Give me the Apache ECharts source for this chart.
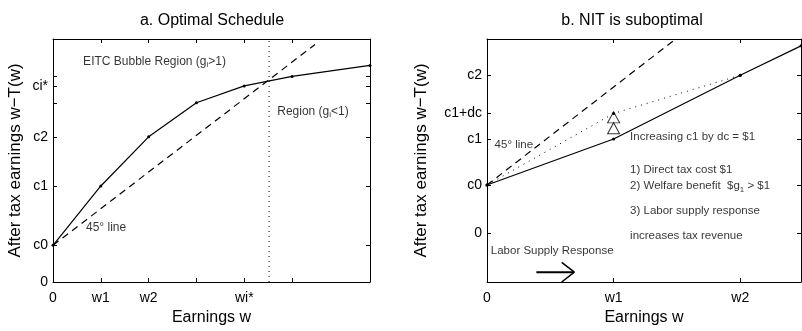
<!DOCTYPE html>
<html>
<head>
<meta charset="utf-8">
<script src="https://cdn.jsdelivr.net/npm/echarts@6/dist/echarts.min.js"></script>
<style>
  html, body { margin: 0; background: #fff; }
  #chart { width: 802px; height: 331px; }
</style>
</head>
<body>
<div id="chart"></div>
<script>
// ---- panel a: optimal schedule ----
const aTickW = [0, 1, 2, 3, 4, 5];
const aTickWLabels = ['0', 'w1', 'w2', '', 'wi*', ''];
const aTickC = [0, 1, 2.62, 3.96, 4.89, 5.35, 5.61];
const aTickCLabels = ['0', 'c0', 'c1', 'c2', '', 'ci*', ''];
const aScheduleW = [0, 1, 2, 3, 4, 5, 6.63];
const aScheduleC = [1, 2.62, 3.96, 4.89, 5.35, 5.61, 5.91];
const aLine45 = [[0, 1], [5.48, 6.48]];
const aWiStar = 4.52;
const aMax = 6.63;
const aNotes = [
  [0.63, 6.02, 'EITC Bubble Region (g{s|i}>1)'],
  [4.69, 4.65, 'Region (g{s|i}<1)'],
  [0.69, 1.47, '45° line']
];

// ---- panel b: NIT is suboptimal ----
const bTickW = [0, 1, 2];
const bTickWLabels = ['0', 'w1', 'w2'];
const bTickC = [0, 0.49, 0.96, 1.22, 1.61];
const bTickCLabels = ['0', 'c0', 'c1', 'c1+dc', 'c2'];
const bNitW = [0, 1, 2, 2.48];
const bNitC = [0.49, 0.96, 1.61, 1.91];
const bRaised = [[0, 0.49], [1, 1.22], [2, 1.61]];
const bLine45 = [[0, 0.49], [1.49, 1.98]];
const bTriangles = [[1, 1.18], [1, 1.07]];
const bArrowShaft = [[0.39, -0.40], [0.68, -0.40]];
const bArrowHead = [[0.59, -0.30], [0.69, -0.40], [0.59, -0.50]];
const bMinC = -0.5, bMaxC = 1.98, bMaxW = 2.48;
const bNotes = [
  [0.06, 0.90, '45° line'],
  [1.13, 0.98, 'Increasing c1 by dc = $1'],
  [1.13, 0.64, '1) Direct tax cost $1'],
  [1.13, 0.48, '2) Welfare benefit  $g{s|1} > $1'],
  [1.13, 0.23, '3) Labor supply response'],
  [1.13, -0.03, 'increases tax revenue'],
  [0.03, -0.18, 'Labor Supply Response']
];

const FONT = 'Liberation Sans, Arial, sans-serif';
const INK = '#000';

const pick = (ticks, labels) => v => {
  const i = ticks.findIndex(t => Math.abs(t - v) < 1e-6);
  return i < 0 ? '' : labels[i];
};

function xAxisFor(grid, ticks, labels, max, top) {
  return {
    type: 'value', gridIndex: grid, min: 0, max: max,
    position: top ? 'top' : 'bottom',
    name: top ? '' : 'Earnings w', nameLocation: 'middle', nameGap: 28,
    nameTextStyle: { fontFamily: FONT, fontSize: 16, color: INK },
    axisLine: { show: true, onZero: false, lineStyle: { color: INK, width: 1 } },
    axisTick: { show: true, inside: true, length: 4, customValues: ticks, lineStyle: { color: INK } },
    axisLabel: { show: !top, customValues: ticks, formatter: pick(ticks, labels),
      fontFamily: FONT, fontSize: 14, color: INK, margin: 9 },
    splitLine: { show: false }
  };
}

function yAxisFor(grid, ticks, labels, min, max, right, gap) {
  return {
    type: 'value', gridIndex: grid, min: min, max: max,
    position: right ? 'right' : 'left',
    name: right ? '' : 'After tax earnings w\u2212T(w)', nameLocation: 'middle', nameGap: gap,
    nameTextStyle: { fontFamily: FONT, fontSize: 17, color: INK },
    axisLine: { show: true, onZero: false, lineStyle: { color: INK, width: 1 } },
    axisTick: { show: true, inside: true, length: 4, customValues: ticks, lineStyle: { color: INK } },
    axisLabel: { show: !right, customValues: ticks, formatter: pick(ticks, labels),
      fontFamily: FONT, fontSize: 14, color: INK, margin: 5 },
    splitLine: { show: false }
  };
}

function notesSeries(axis, notes, size) {
  return {
    type: 'scatter', xAxisIndex: axis, yAxisIndex: axis, symbolSize: 0, silent: true,
    data: notes.map(n => ({ value: [n[0], n[1]], name: n[2] })),
    label: {
      show: true, position: 'right', distance: 0, formatter: '{b}',
      fontFamily: FONT, fontSize: size, color: INK,
      rich: { s: { fontFamily: FONT, fontSize: 8, color: INK, padding: [7, 0, 0, 0] } }
    }
  };
}

const lineStyle = (type, width) => ({ color: INK, width: width || 1, type: type || 'solid' });

const chart = echarts.init(document.getElementById('chart'));
chart.setOption({
  animation: false,
  backgroundColor: '#fff',
  title: [
    { text: 'a. Optimal Schedule', left: 212, top: 13, textAlign: 'center', padding: 0,
      textStyle: { fontFamily: FONT, fontSize: 16, fontWeight: 'normal', color: INK } },
    { text: 'b. NIT is suboptimal', left: 632, top: 13, textAlign: 'center', padding: 0,
      textStyle: { fontFamily: FONT, fontSize: 16, fontWeight: 'normal', color: INK } }
  ],
  grid: [
    { left: 53, top: 39, width: 317, height: 248 },
    { left: 487, top: 39, width: 314, height: 248 }
  ],
  xAxis: [
    xAxisFor(0, aTickW, aTickWLabels, aMax, false),
    xAxisFor(1, bTickW, bTickWLabels, bMaxW, false),
    xAxisFor(0, aTickW, aTickWLabels, aMax, true),
    xAxisFor(1, bTickW, bTickWLabels, bMaxW, true)
  ],
  yAxis: [
    yAxisFor(0, aTickC, aTickCLabels, 0, aMax, false, 29),
    yAxisFor(1, bTickC, bTickCLabels, bMinC, bMaxC, false, 57),
    yAxisFor(0, aTickC, aTickCLabels, 0, aMax, true, 0),
    yAxisFor(1, bTickC, bTickCLabels, bMinC, bMaxC, true, 0)
  ],
  series: [
    // panel a
    { type: 'line', xAxisIndex: 0, yAxisIndex: 0, silent: true,
      data: aScheduleW.map((w, i) => [w, aScheduleC[i]]),
      symbol: 'circle', symbolSize: 3, itemStyle: { color: INK }, lineStyle: lineStyle('solid', 1.2) },
    { type: 'line', xAxisIndex: 0, yAxisIndex: 0, silent: true, data: aLine45,
      symbol: 'none', lineStyle: lineStyle([7, 5], 1.2) },
    { type: 'line', xAxisIndex: 0, yAxisIndex: 0, silent: true,
      data: [[aWiStar, 0], [aWiStar, aMax]],
      symbol: 'none', lineStyle: lineStyle([1, 4]) },
    notesSeries(0, aNotes, 12),
    // panel b
    { type: 'line', xAxisIndex: 1, yAxisIndex: 1, silent: true,
      data: bNitW.map((w, i) => [w, bNitC[i]]),
      symbol: 'circle', symbolSize: 3, itemStyle: { color: INK }, lineStyle: lineStyle('solid', 1.2) },
    { type: 'line', xAxisIndex: 1, yAxisIndex: 1, silent: true, data: bRaised,
      symbol: 'circle', symbolSize: 3, itemStyle: { color: INK }, lineStyle: lineStyle([1, 5]) },
    { type: 'line', xAxisIndex: 1, yAxisIndex: 1, silent: true, data: bLine45,
      symbol: 'none', lineStyle: lineStyle([7, 5], 1.2) },
    { type: 'scatter', xAxisIndex: 1, yAxisIndex: 1, silent: true, data: bTriangles,
      symbol: 'triangle', symbolSize: [12, 11],
      itemStyle: { color: 'rgba(0,0,0,0)', borderColor: INK, borderWidth: 1 } },
    { type: 'line', xAxisIndex: 1, yAxisIndex: 1, silent: true, data: bArrowShaft,
      symbol: 'none', lineStyle: lineStyle('solid', 2) },
    { type: 'line', xAxisIndex: 1, yAxisIndex: 1, silent: true, data: bArrowHead,
      symbol: 'none', lineStyle: lineStyle('solid', 1.5) },
    notesSeries(1, bNotes, 11.5)
  ]
});
</script>
</body>
</html>
